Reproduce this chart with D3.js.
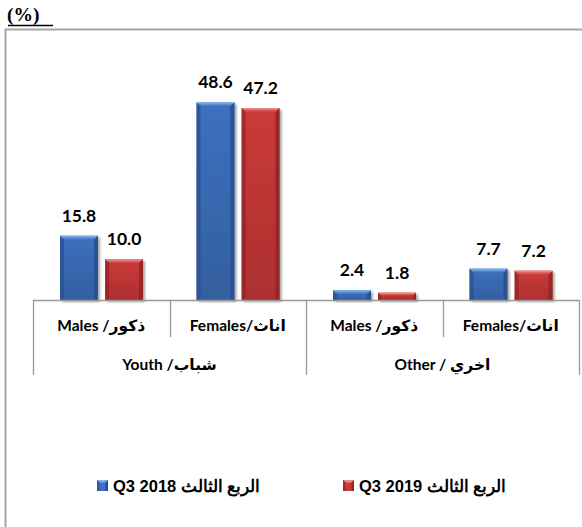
<!DOCTYPE html>
<html>
<head>
<meta charset="utf-8">
<script src="https://cdn.jsdelivr.net/npm/d3@7/dist/d3.min.js"></script>
<style>
  html, body { margin: 0; padding: 0; background: #fff; }
  svg { display: block; }
</style>
</head>
<body>
<svg id="chart" width="582" height="527"></svg>
<script>
// Share by category (%)
const groups = ["Youth /شباب", "Other / اخري"];
const categories = ["Males /ذكور", "Females/اناث", "Males /ذكور ", "Females/اناث "];
const categoryGroup = [0, 0, 1, 1];
const seriesNames = ["Q3 2018 الربع الثالث", "Q3 2019 الربع الثالث"];
const q3_2018 = [15.8, 48.6, 2.4, 7.7];
const q3_2019 = [10.0, 47.2, 1.8, 7.2];
const seriesValues = [q3_2018, q3_2019];

const palette = [
  { main: "#3d70bf", light: "#7eb0ea", dark: "#2a5090", edge: "#335f9f" },
  { main: "#cc3a3a", light: "#ef8a8a", dark: "#932626", edge: "#ad2f2f" }
];

const svg = d3.select("#chart");
const W = 582, H = 527;

const x0 = d3.scaleBand().domain(d3.range(categories.length)).range([33, 579]);
const bw = x0.bandwidth();
const x1 = d3.scaleBand().domain([0, 1]).range([bw * 0.198, bw * 0.806]).paddingInner(0.16);
const y = d3.scaleLinear().domain([0, 60]).range([300, 56]);

// gradients for the bevelled bars
const defs = svg.append("defs");
palette.forEach((p, i) => {
  const g = defs.append("linearGradient").attr("id", "face" + i)
    .attr("x1", 0).attr("x2", 0).attr("y1", 0).attr("y2", 1);
  g.append("stop").attr("offset", "0%").attr("stop-color", p.main);
  g.append("stop").attr("offset", "100%").attr("stop-color", p.edge);
  const t = defs.append("linearGradient").attr("id", "top" + i)
    .attr("x1", 0).attr("x2", 0).attr("y1", 0).attr("y2", 1);
  t.append("stop").attr("offset", "0%").attr("stop-color", p.light);
  t.append("stop").attr("offset", "100%").attr("stop-color", p.main);
});
const shadow = defs.append("filter").attr("id", "shadow")
  .attr("x", "-20%").attr("y", "-20%").attr("width", "150%").attr("height", "150%");
shadow.append("feGaussianBlur").attr("in", "SourceAlpha").attr("stdDeviation", 1.2);
shadow.append("feOffset").attr("dx", 1.5).attr("dy", 1.5).attr("result", "off");
shadow.append("feComponentTransfer").append("feFuncA").attr("type", "linear").attr("slope", 0.35);
const merge = shadow.append("feMerge");
merge.append("feMergeNode");
merge.append("feMergeNode").attr("in", "SourceGraphic");

// outer frame
svg.append("path")
  .attr("d", `M5.5,${H + 2} V29.5 H${W + 2}`)
  .attr("fill", "none").attr("stroke", "#a6a6a6").attr("stroke-width", 2);

// unit label
svg.append("text")
  .attr("x", 7).attr("y", 21)
  .attr("font-family", "'Liberation Serif', 'Times New Roman', serif")
  .attr("font-weight", "bold").attr("font-size", 19.5)
  .text("(%)");
svg.append("line")
  .attr("x1", 8).attr("x2", 53).attr("y1", 25.5).attr("y2", 25.5)
  .attr("stroke", "#000").attr("stroke-width", 1.5);

// bars
const bars = [];
seriesValues.forEach((vals, s) => {
  vals.forEach((v, c) => {
    bars.push({ s, c, v, x: x0(c) + x1(s), w: x1.bandwidth(), y0: y(v), y1: y(0) });
  });
});

const barG = svg.append("g").selectAll("g").data(bars).join("g")
  .attr("filter", "url(#shadow)");

barG.each(function (d) {
  const g = d3.select(this);
  const p = palette[d.s];
  const h = d.y1 - d.y0;
  const b = Math.min(4, h / 2.5);
  const xl = d.x, xr = d.x + d.w, yt = d.y0, yb = d.y1;
  g.append("rect").attr("x", xl).attr("y", yt).attr("width", d.w).attr("height", h)
    .attr("fill", `url(#face${d.s})`);
  // top bevel
  g.append("polygon")
    .attr("points", [[xl, yt], [xr, yt], [xr - b, yt + b], [xl + b, yt + b]].join(" "))
    .attr("fill", `url(#top${d.s})`);
  // left bevel
  g.append("polygon")
    .attr("points", [[xl, yt], [xl + b, yt + b], [xl + b, yb], [xl, yb]].join(" "))
    .attr("fill", p.dark).attr("opacity", 0.75);
  // right bevel
  g.append("polygon")
    .attr("points", [[xr, yt], [xr - b, yt + b], [xr - b, yb], [xr, yb]].join(" "))
    .attr("fill", p.dark).attr("opacity", 0.9);
  // top highlight line
  g.append("line").attr("x1", xl + 1).attr("x2", xr - 1).attr("y1", yt + 0.5).attr("y2", yt + 0.5)
    .attr("stroke", p.light).attr("stroke-width", 1);
});

// value labels
svg.append("g").selectAll("text").data(bars).join("text")
  .attr("x", d => d.x + d.w / 2)
  .attr("y", d => d.y0 - 14)
  .attr("text-anchor", "middle")
  .attr("font-family", "Lato, 'Open Sans', sans-serif")
  .attr("font-weight", "bold").attr("font-size", 17.5)
  .attr("fill", "#000")
  .text(d => d.v.toFixed(1));

// category axis
const axisColor = "#999";
const axG = svg.append("g").attr("stroke", axisColor).attr("stroke-width", 1.3);
axG.append("line").attr("x1", x0.range()[0]).attr("x2", x0.range()[1])
  .attr("y1", y(0) + 0.5).attr("y2", y(0) + 0.5);
const bounds = d3.range(categories.length + 1).map(i => i < categories.length ? x0(i) : x0.range()[1]);
bounds.forEach((bx, i) => {
  const isGroupEdge = i === 0 || i === categories.length || categoryGroup[i] !== categoryGroup[i - 1];
  axG.append("line")
    .attr("x1", Math.round(bx) + 0.5).attr("x2", Math.round(bx) + 0.5)
    .attr("y1", y(0)).attr("y2", isGroupEdge ? 375 : 337);
});

svg.append("g").selectAll("text").data(categories).join("text")
  .attr("x", (d, i) => x0(i) + bw / 2)
  .attr("y", 331)
  .attr("text-anchor", "middle")
  .attr("direction", "ltr")
  .attr("font-family", "Lato, 'DejaVu Sans', sans-serif")
  .attr("font-weight", "bold").attr("font-size", 15.5)
  .text(d => d.trim());

svg.append("g").selectAll("text").data(groups).join("text")
  .attr("x", (d, gi) => {
    const idx = categoryGroup.map((g, i) => g === gi ? i : -1).filter(i => i >= 0);
    return (x0(idx[0]) + x0(idx[idx.length - 1]) + bw) / 2;
  })
  .attr("y", 370)
  .attr("text-anchor", "middle")
  .attr("direction", "ltr")
  .attr("font-family", "Lato, 'DejaVu Sans', sans-serif")
  .attr("font-weight", "bold").attr("font-size", 15.5)
  .text(d => d);

// legend
const legendX = [97, 343];
const lg = svg.append("g").selectAll("g").data(seriesNames).join("g")
  .attr("transform", (d, i) => `translate(${legendX[i]},480)`);
lg.each(function (d, i) {
  const g = d3.select(this);
  const p = palette[i];
  g.append("rect").attr("width", 11).attr("height", 11).attr("fill", p.main);
  g.append("polygon").attr("points", "0,0 11,0 8.5,2.5 2.5,2.5").attr("fill", p.light);
  g.append("polygon").attr("points", "0,0 2.5,2.5 2.5,11 0,11").attr("fill", p.dark).attr("opacity", 0.7);
  g.append("polygon").attr("points", "11,0 8.5,2.5 8.5,11 11,11").attr("fill", p.dark);
});
lg.append("text")
  .attr("x", 16).attr("y", 11.5)
  .attr("direction", "ltr")
  .attr("font-family", "'Liberation Sans', Arial, sans-serif")
  .attr("font-weight", "bold").attr("font-size", 16.5)
  .text(d => d);
</script>
</body>
</html>
